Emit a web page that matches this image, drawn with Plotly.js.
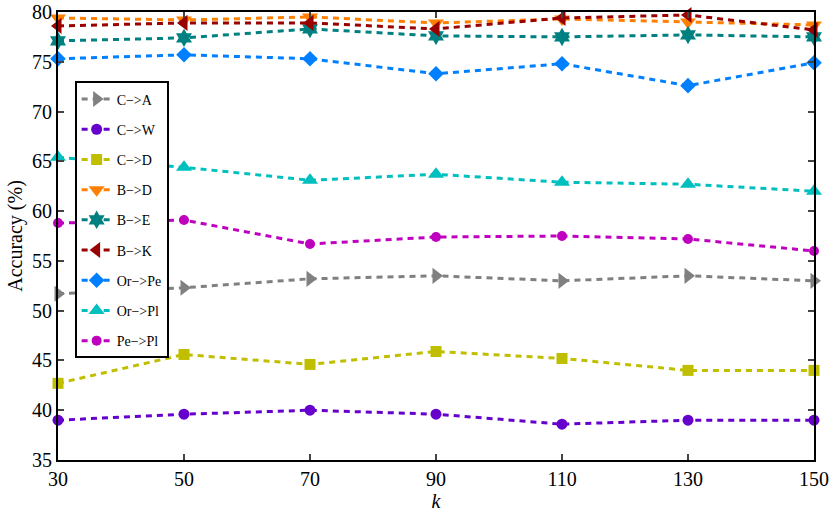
<!DOCTYPE html>
<html>
<head>
<meta charset="utf-8">
<script src="https://cdn.plot.ly/plotly-3.0.1.min.js"></script>
<style>
  body { margin: 0; background: #fff; }
  #plot { width: 830px; height: 522px; }
</style>
</head>
<body>
<div id="plot"></div>
<script>
var k = [30, 50, 70, 90, 110, 130, 150];

var names = ['C\u2212>A', 'C\u2212>W', 'C\u2212>D', 'B\u2212>D', 'B\u2212>E', 'B\u2212>K', 'Or\u2212>Pe', 'Or\u2212>Pl', 'Pe\u2212>Pl'];

var cToA  = [51.7, 52.3, 53.2, 53.5, 53.0, 53.5, 53.0];
var cToW  = [39.0, 39.6, 40.0, 39.6, 38.6, 39.0, 39.0];
var cToD  = [42.7, 45.6, 44.6, 45.9, 45.2, 44.0, 44.0];
var bToD  = [79.4, 79.2, 79.5, 78.9, 79.3, 79.0, 78.7];
var bToE  = [77.1, 77.4, 78.3, 77.6, 77.5, 77.7, 77.5];
var bToK  = [78.6, 78.9, 78.9, 78.3, 79.4, 79.7, 78.2];
var orToPe = [75.3, 75.7, 75.3, 73.8, 74.8, 72.6, 74.9];
var orToPl = [65.4, 64.4, 63.1, 63.7, 62.9, 62.7, 62.0];
var peToPl = [58.8, 59.1, 56.7, 57.4, 57.5, 57.2, 56.0];

var series = [cToA, cToW, cToD, bToD, bToE, bToK, orToPe, orToPl, peToPl];

var colors = ['#808080', '#6600CC', '#BFBF00', '#FF8000', '#008080', '#990000', '#0080FF', '#00BFBF', '#BF00BF'];
var symbols = ['triangle-right', 'circle', 'square', 'triangle-down', 'hexagram', 'triangle-left', 'diamond', 'triangle-up', 'circle'];
var sizes = [14, 11, 11, 14, 14, 14, 12, 14, 10];

var serif = '"Times New Roman", "Liberation Serif", Times, serif';

var data = series.map(function (y, i) {
    return {
        x: k,
        y: y,
        name: names[i],
        legendgroup: 'g' + i,
        mode: 'lines+markers',
        type: 'scatter',
        cliponaxis: false,
        line: { color: colors[i], width: 3, dash: '6px,5px' },
        marker: { symbol: symbols[i], size: sizes[i], color: colors[i] }
    };
});

var layout = {
    width: 830,
    height: 522,
    paper_bgcolor: '#fff',
    plot_bgcolor: '#fff',
    margin: { l: 58, r: 16, t: 12, b: 62 },
    font: { family: serif, color: '#000' },
    showlegend: true,
    legend: {
        x: 0.022, y: 0.845,
        xanchor: 'left', yanchor: 'top',
        bgcolor: '#fff',
        bordercolor: '#000',
        borderwidth: 2,
        traceorder: 'grouped',
        tracegroupgap: 9,
        font: { size: 14, family: serif }
    },
    xaxis: {
        range: [30, 150],
        tickvals: k,
        ticks: 'inside',
        ticklen: 6,
        tickwidth: 1.5,
        showline: true,
        linewidth: 2,
        linecolor: '#000',
        mirror: 'ticks',
        showgrid: false,
        zeroline: false,
        ticklabeloverflow: 'allow',
        tickfont: { size: 20, family: serif },
        title: { text: '<i>k</i>', font: { size: 20, family: serif }, standoff: 2 }
    },
    yaxis: {
        range: [35, 80],
        dtick: 5,
        ticks: 'inside',
        ticklen: 6,
        tickwidth: 1.5,
        showline: true,
        linewidth: 2,
        linecolor: '#000',
        mirror: 'ticks',
        showgrid: false,
        zeroline: false,
        ticklabeloverflow: 'allow',
        tickfont: { size: 20, family: serif },
        title: { text: 'Accuracy (%)', font: { size: 20, family: serif }, standoff: 4 }
    }
};

Plotly.newPlot('plot', data, layout, { displayModeBar: false });
</script>
</body>
</html>
